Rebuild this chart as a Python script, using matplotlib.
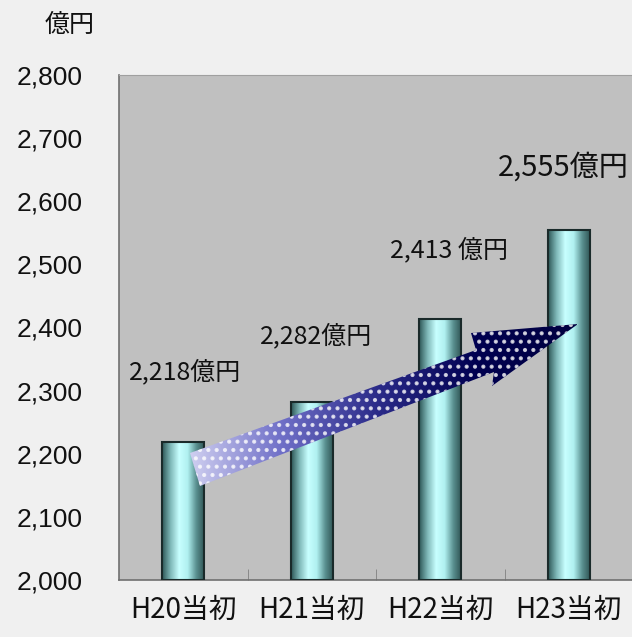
import matplotlib.pyplot as plt
import numpy as np
from matplotlib.colors import LinearSegmentedColormap
from matplotlib.patches import Polygon

plt.rcParams['font.family'] = ['Noto Sans CJK JP', 'DejaVu Sans']
plt.rcParams['hatch.linewidth'] = 1.8

# data
categories = ['H20当初', 'H21当初', 'H22当初', 'H23当初']
values = [2218, 2282, 2413, 2555]
value_labels = ['2,218億円', '2,282億円', '2,413 億円', '2,555億円']
yticks = [2000, 2100, 2200, 2300, 2400, 2500, 2600, 2700, 2800]

fig = plt.figure(figsize=(6.32, 6.37), dpi=100, facecolor='#f0f0f0')
ax = fig.add_axes([119 / 632, 57 / 637, 514 / 632, 505 / 637])
ax.set_facecolor('#c0c0c0')

x = np.arange(len(categories))
bars = ax.bar(x, [v - 2000 for v in values], bottom=2000, width=0.33,
              facecolor='none', edgecolor='#1a2a2a', linewidth=1.5, zorder=3)

ax.set_xlim(-0.5, len(categories) - 0.5)
ax.set_ylim(2000, 2800)

# cylinder shading for the bars
cyl = LinearSegmentedColormap.from_list('cyl', ['#2c5555', '#7fb8b8', '#c8ffff', '#b0f0f0', '#5a9090', '#2c5050'])
grad = np.linspace(0, 1, 256).reshape(1, -1)
for b in bars:
    x0, y0 = b.get_x(), b.get_y()
    im = ax.imshow(grad, cmap=cyl, aspect='auto', zorder=2,
                   extent=(x0, x0 + b.get_width(), y0, y0 + b.get_height()))
    im.set_clip_path(b)

# arrow (pixel positions converted to axes fraction)
def px(p):
    return ((p[0] - 119) / 514, (580 - p[1]) / 505)

arrow_pts = [px(p) for p in [(190, 453), (476, 350), (471, 333), (578, 324),
                             (492, 386), (494, 372), (200, 486)]]
arr = Polygon(arrow_pts, closed=True, transform=ax.transAxes, facecolor='none',
              edgecolor='none', zorder=4)
ax.add_patch(arr)
acmap = LinearSegmentedColormap.from_list('arr', ['#d8d8f4', '#7070c8', '#2a2a88', '#000050', '#000040'])
ag = np.linspace(0, 1, 256).reshape(1, -1)
aim = ax.imshow(ag, cmap=acmap, aspect='auto', extent=(0.12, 0.89, 0.18, 0.52),
                transform=ax.transAxes, zorder=4)
aim.set_clip_path(arr)
dots = Polygon(arrow_pts, closed=True, transform=ax.transAxes, facecolor='none',
               edgecolor='white', linewidth=0, hatch='..', alpha=0.75, zorder=5)
ax.add_patch(dots)

ax.set_xlim(-0.5, len(categories) - 0.5)
ax.set_ylim(2000, 2800)

ax.set_yticks(yticks)
ax.set_yticklabels([f'{t:,}' for t in yticks], family='Liberation Sans', fontsize=19, color='#111111')
ax.set_xticks(x)
ax.set_xticklabels(categories, fontsize=20, color='#111111')
ax.set_xticks([0.5, 1.5, 2.5], minor=True)
ax.tick_params(axis='x', which='major', length=0, pad=11)
ax.tick_params(axis='x', which='minor', direction='in', length=8, color='#808080')
ax.tick_params(axis='y', length=0, pad=26)

for s in ['left', 'bottom']:
    ax.spines[s].set_color('#707070')
    ax.spines[s].set_linewidth(1.2)
for s in ['top', 'right']:
    ax.spines[s].set_color('#a0a0a0')

# value labels
label_pos = [(185, 372, 18), (316, 336, 18), (449, 250, 18), (563, 168, 21)]
for lbl, (lx, ly, fs) in zip(value_labels, label_pos):
    fx, fy = px((lx, ly))
    ax.text(fx, fy, lbl, transform=ax.transAxes, ha='center', va='center',
            fontsize=fs, color='#111111', zorder=6, clip_on=False)

fig.text(70 / 632, 1 - 25 / 637, '億円', ha='center', va='center', fontsize=18, color='#111111')

fig.savefig('out.png', dpi=100, facecolor=fig.get_facecolor())
